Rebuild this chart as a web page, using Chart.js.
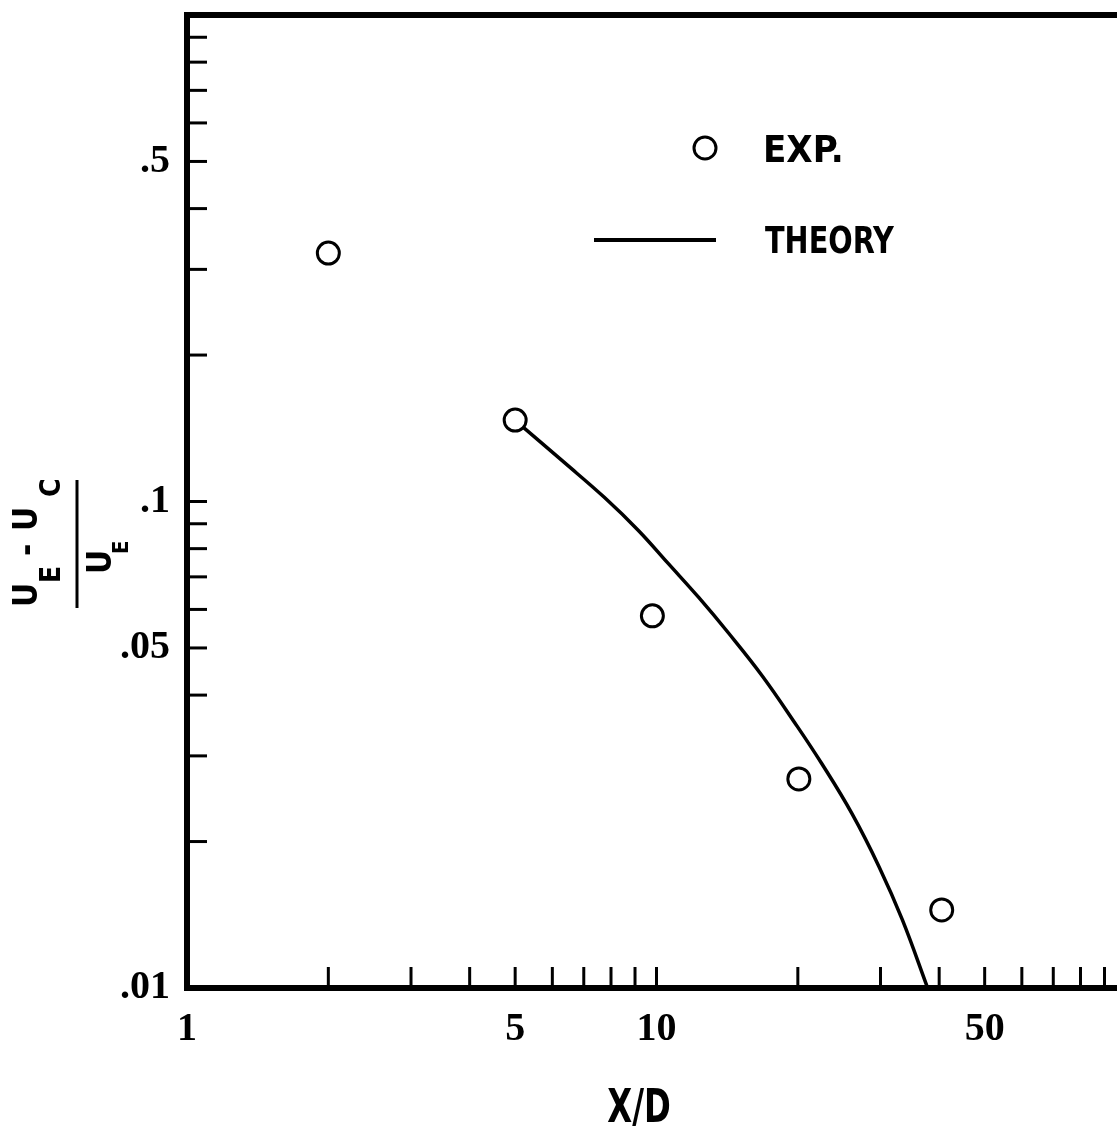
<!DOCTYPE html>
<html>
<head>
<meta charset="utf-8">
<style>
  html, body { margin: 0; padding: 0; background: #fff; overflow: hidden; }
  canvas { display: block; }
</style>
<script src="https://cdn.jsdelivr.net/npm/chart.js@4.4.1/dist/chart.umd.min.js"></script>
</head>
<body>
<canvas id="c" width="1140" height="1129" style="width:1140px;height:1129px"></canvas>
<script>
// ---- data ----
const expX = [2.0, 5.0, 9.8, 20.1, 40.5];
const expY = [0.324, 0.147, 0.0582, 0.0269, 0.01447];

const theoryX = [5.0, 6.36, 7.74, 9.15, 10.6, 12.3, 14.25, 16.8, 19.7, 22.5, 26.1, 29.8, 33.4, 37.8];
const theoryY = [0.1468, 0.1203, 0.1020, 0.0872, 0.0745, 0.0635, 0.0536, 0.0438, 0.0351, 0.0289, 0.0228, 0.01774, 0.0138, 0.0100];

// ---- axes / ticks ----
const xTickValues = [1, 2, 3, 4, 5, 6, 7, 8, 9, 10, 20, 30, 40, 50, 60, 70, 80, 90, 100];
const xLabelValues = [1, 5, 10, 50];
const xLabelTexts = ['1', '5', '10', '50'];

const yTickValues = [0.01, 0.02, 0.03, 0.04, 0.05, 0.06, 0.07, 0.08, 0.09,
                     0.1, 0.2, 0.3, 0.4, 0.5, 0.6, 0.7, 0.8, 0.9, 1];
const yLabelValues = [0.01, 0.05, 0.1, 0.5];
const yLabelTexts = ['.01', '.05', '.1', '.5'];

const legendLabels = ['EXP.', 'THEORY'];
const xTitle = 'X/D';

const SANS = '"DejaVu Sans Condensed", "DejaVu Sans", sans-serif';
const SERIF = '"Liberation Serif", "DejaVu Serif", serif';

function labelFor(vals, texts, v) {
  for (let i = 0; i < vals.length; i++) {
    if (Math.abs(vals[i] - v) / vals[i] < 1e-6) return texts[i];
  }
  return '';
}

function zeroPad(s) { s.paddingTop = 0; s.paddingBottom = 0; s.paddingLeft = 0; s.paddingRight = 0; }

function condensedText(ctx, text, x, y, k, align) {
  ctx.save();
  ctx.translate(x, y);
  ctx.scale(k, 1);
  ctx.textAlign = align || 'left';
  ctx.fillText(text, 0, 0);
  ctx.restore();
}

const decorPlugin = {
  id: 'decor',
  afterDraw(chart) {
    const ctx = chart.ctx;
    const ca = chart.chartArea;
    const xs = chart.scales.x, ys = chart.scales.y;
    ctx.save();
    ctx.strokeStyle = '#000';
    ctx.fillStyle = '#000';
    ctx.lineCap = 'butt';

    // inward tick marks
    ctx.lineWidth = 3;
    yTickValues.forEach(v => {
      const py = ys.getPixelForValue(v);
      ctx.beginPath(); ctx.moveTo(ca.left, py); ctx.lineTo(ca.left + 20, py); ctx.stroke();
    });
    xTickValues.forEach(v => {
      const px = xs.getPixelForValue(v);
      ctx.beginPath(); ctx.moveTo(px, ca.bottom); ctx.lineTo(px, ca.bottom - 21); ctx.stroke();
    });

    // frame
    ctx.lineWidth = 6;
    ctx.lineCap = 'square';
    ctx.beginPath();
    ctx.moveTo(ca.right, ca.top);
    ctx.lineTo(ca.left, ca.top);
    ctx.lineTo(ca.left, ca.bottom);
    ctx.lineTo(ca.right, ca.bottom);
    ctx.lineTo(ca.right, ca.top);
    ctx.stroke();

    // legend
    ctx.lineCap = 'butt';
    ctx.lineWidth = 3;
    ctx.beginPath(); ctx.arc(705, 148, 11, 0, Math.PI * 2);
    ctx.fillStyle = '#fff'; ctx.fill(); ctx.stroke();
    ctx.fillStyle = '#000';
    ctx.lineWidth = 4;
    ctx.beginPath(); ctx.moveTo(594, 240); ctx.lineTo(716, 240); ctx.stroke();
    ctx.font = 'bold 38px ' + SANS;
    ctx.textBaseline = 'alphabetic';
    condensedText(ctx, legendLabels[0], 763, 162, 1.0, 'left');
    condensedText(ctx, legendLabels[1], 765, 253, 0.84, 'left');

    // x title
    ctx.font = 'bold 46px ' + SANS;
    condensedText(ctx, xTitle, 639, 1122, 0.78, 'center');

    // y title: (U_E - U_C) / U_E, rotated
    ctx.save();
    ctx.rotate(-Math.PI / 2);
    ctx.textAlign = 'left';
    ctx.textBaseline = 'alphabetic';
    const big = 'bold 33px ' + SANS;
    const sub = 'bold 28px ' + SANS;
    const seg = (t, f, screenYStart, baselineX) => { ctx.font = f; ctx.fillText(t, -screenYStart, baselineX); };
    seg('U', big, 607, 37);
    seg('E', sub, 583, 60);
    seg('-', big, 556, 37);
    seg('U', big, 531, 37);
    seg('C', sub, 497, 60);
    seg('U', big, 574, 111);
    seg('E', 'bold 22px ' + SANS, 554, 128);
    ctx.restore();
    ctx.lineWidth = 3;
    ctx.beginPath(); ctx.moveTo(77, 480); ctx.lineTo(77, 608); ctx.stroke();

    ctx.restore();
  }
};

new Chart(document.getElementById('c'), {
  type: 'scatter',
  data: {
    datasets: [
      {
        label: legendLabels[0],
        data: expX.map((x, i) => ({ x: x, y: expY[i] })),
        showLine: false,
        pointStyle: 'circle',
        pointRadius: 11,
        pointBorderWidth: 3,
        pointBorderColor: '#000',
        pointBackgroundColor: '#fff',
        clip: false
      },
      {
        label: legendLabels[1],
        data: theoryX.map((x, i) => ({ x: x, y: theoryY[i] })),
        showLine: true,
        borderColor: '#000',
        borderWidth: 3.5,
        pointRadius: 0,
        tension: 0.4,
        fill: false,
        clip: false
      }
    ]
  },
  options: {
    responsive: false,
    animation: false,
    events: [],
    layout: { padding: { top: 15, right: 7, left: 0, bottom: 0 } },
    plugins: { legend: { display: false }, tooltip: { enabled: false } },
    scales: {
      x: {
        type: 'logarithmic',
        min: 1, max: 100,
        grid: { display: false, drawTicks: false },
        border: { display: false },
        afterBuildTicks: s => { s.ticks = xTickValues.map(v => ({ value: v })); },
        afterFit: s => { s.height = 141; zeroPad(s); },
        ticks: {
          autoSkip: false, maxRotation: 0, minRotation: 0, padding: 18, color: '#000',
          font: { family: SERIF, size: 40, weight: 'bold' },
          callback: v => labelFor(xLabelValues, xLabelTexts, v)
        }
      },
      y: {
        type: 'logarithmic',
        min: 0.01, max: 1,
        grid: { display: false, drawTicks: false },
        border: { display: false },
        afterBuildTicks: s => { s.ticks = yTickValues.map(v => ({ value: v })); },
        afterFit: s => { s.width = 187; zeroPad(s); },
        ticks: {
          autoSkip: false, padding: 17, color: '#000',
          font: { family: SERIF, size: 40, weight: 'bold' },
          callback: v => labelFor(yLabelValues, yLabelTexts, v)
        }
      }
    }
  },
  plugins: [decorPlugin]
});
</script>
</body>
</html>
